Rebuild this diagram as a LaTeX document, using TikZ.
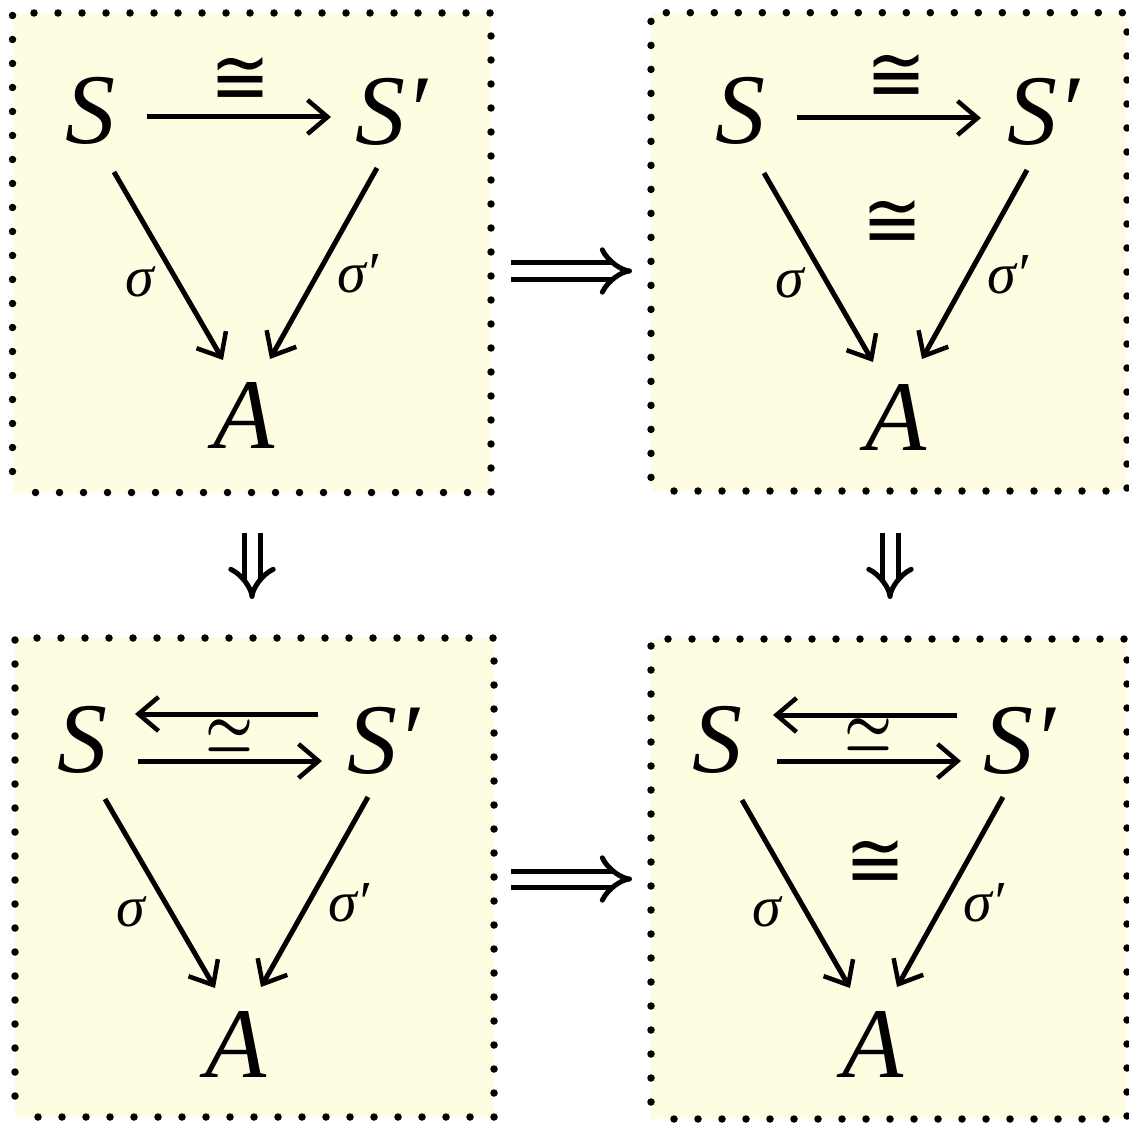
\documentclass[tikz,border=0pt]{standalone}
\usepackage[no-math]{fontspec}
\usepackage{graphicx}
\setmainfont{Liberation Serif}
\newfontfamily\symfont{DejaVu Sans}
\usetikzlibrary{arrows.meta}
\definecolor{panelfill}{HTML}{FFFDE1}
\newcommand\isoc{\resizebox{60pt}{47pt}{\symfont ≅}}
\newcommand\isos{\resizebox{48pt}{27pt}{\raisebox{-0.3616pt}[4.2768pt][0pt]{\boldmath$\simeq$}}}
\begin{document}
\begin{tikzpicture}[x=1pt,y=-1pt,
  panel/.style={rectangle, inner sep=0pt, outer sep=0pt, fill=panelfill, draw=black,
    line width=7.5pt, line cap=round, dash pattern=on 0pt off 24pt, dash phase=1pt},
  big/.style={font=\fontsize{100}{110}\selectfont\itshape, inner sep=0pt, anchor=base west},
  lbl/.style={font=\fontsize{58}{64}\selectfont\itshape, inner sep=0pt, anchor=base west},
  iso/.style={inner sep=0pt, anchor=center},
  arr/.style={line width=5pt, -{Straight Barb[length=20pt,width=34pt,line width=4.5pt]}},
  impl/.style={double, double distance=11pt, line width=5pt, -{Implies}},
]
\useasboundingbox (0,0) rectangle (1129,1123);

% panels
\node[panel, minimum width=478.5pt, minimum height=479.5pt] (P1) at (251.75,252.75) {};
\node[panel, minimum width=476pt, minimum height=478.3pt] (P2) at (889,251.85) {};
\node[panel, minimum width=479pt, minimum height=479pt] (P3) at (254.5,877.5) {};
\node[panel, minimum width=476pt, minimum height=480pt] (P4) at (889,879) {};

% implications between panels
\draw[impl] ([shift={(20,18.25)}]P1.east) -- ([shift={(-19,19.15)}]P2.west);
\draw[impl] ([shift={(17,1.5)}]P3.east) -- ([shift={(-19,0)}]P4.west);
\draw[impl] ([shift={(0.25,40.5)}]P1.south) -- ([shift={(-2.5,-39)}]P3.north);
\draw[impl] ([shift={(1,42)}]P2.south) -- ([shift={(1,-40)}]P4.north);

% panel 1
\node[big] (S1) at (65,144) {S};
\node[big] (T1) at (355,145) {S′};
\node[big] (A1) at (213,448) {A};
\node[lbl] (s1) at (125,296) {σ};
\node[lbl] (t1) at (337,292) {σ′};
\node[iso] (c1) at (240.5,80.5) {\isoc};
\draw[arr] ([shift={(82,-27)}]S1.base west) -- ([shift={(-24,-28)}]T1.base west);
\draw[arr] ([shift={(49,28)}]S1.base west) -- ([shift={(10,-88)}]A1.base west);
\draw[arr] ([shift={(22,23)}]T1.base west) -- ([shift={(57,-89)}]A1.base west);

% panel 2
\node[big] (S2) at (715,144) {S};
\node[big] (T2) at (1007,145) {S′};
\node[big] (A2) at (865,450) {A};
\node[lbl] (s2) at (775,297) {σ};
\node[lbl] (t2) at (987,294) {σ′};
\node[iso] (c2) at (896,78) {\isoc};
\node[iso] (m2) at (892.5,223.5) {\isoc};
\draw[arr] ([shift={(82,-26)}]S2.base west) -- ([shift={(-26,-27)}]T2.base west);
\draw[arr] ([shift={(49,29)}]S2.base west) -- ([shift={(8,-88)}]A2.base west);
\draw[arr] ([shift={(20,25)}]T2.base west) -- ([shift={(57,-91)}]A2.base west);

% panel 3
\node[big] (S3) at (57,772) {S};
\node[big] (T3) at (347,773) {S′};
\node[big] (A3) at (205,1077) {A};
\node[lbl] (s3) at (116,926) {σ};
\node[lbl] (t3) at (328,921) {σ′};
\node[iso] (e3) at (229.5,735.5) {\isos};
\draw[arr] ([shift={(-29,-59)}]T3.base west) -- ([shift={(78,-58)}]S3.base west);
\draw[arr] ([shift={(81,-11)}]S3.base west) -- ([shift={(-25,-12)}]T3.base west);
\draw[arr] ([shift={(48,27)}]S3.base west) -- ([shift={(10,-89)}]A3.base west);
\draw[arr] ([shift={(21,24)}]T3.base west) -- ([shift={(56,-90)}]A3.base west);

% panel 4
\node[big] (S4) at (692,772) {S};
\node[big] (T4) at (983,773) {S′};
\node[big] (A4) at (842,1077) {A};
\node[lbl] (s4) at (752,926) {σ};
\node[lbl] (t4) at (963,921) {σ′};
\node[iso] (e4) at (868.5,735) {\isos};
\node[iso] (c4) at (875,863.5) {\isoc};
\draw[arr] ([shift={(-26,-58)}]T4.base west) -- ([shift={(81,-57)}]S4.base west);
\draw[arr] ([shift={(85,-11)}]S4.base west) -- ([shift={(-22,-12)}]T4.base west);
\draw[arr] ([shift={(50,28)}]S4.base west) -- ([shift={(8,-89)}]A4.base west);
\draw[arr] ([shift={(20,24)}]T4.base west) -- ([shift={(55,-90)}]A4.base west);
\end{tikzpicture}
\end{document}
